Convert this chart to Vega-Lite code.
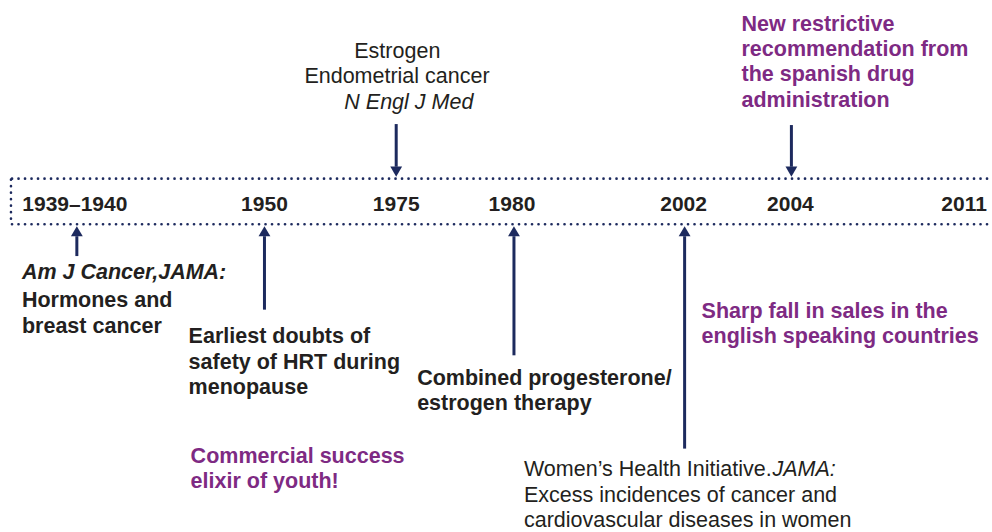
{
  "$schema": "https://vega.github.io/schema/vega-lite/v6.json",
  "width": 992,
  "height": 532,
  "padding": 0,
  "autosize": {"type": "fit", "contains": "padding"},
  "background": "white",
  "config": {"view": {"stroke": null}, "text": {"font": "Liberation Sans", "dy": 2}},
  "datasets": {
    "frame": [
      {"x": 12, "x2": 992, "y": 180, "y2": 180},
      {"x": 12, "x2": 992, "y": 226, "y2": 226},
      {"x": 11, "x2": 11, "y": 181, "y2": 225}
    ],
    "years": [
      {"label": "1939–1940", "x": 75},
      {"label": "1950", "x": 265},
      {"label": "1975", "x": 397},
      {"label": "1980", "x": 513},
      {"label": "2002", "x": 685},
      {"label": "2004", "x": 792},
      {"label": "2011", "x": 966}
    ],
    "arrows": [
      {"x": 77, "tail": 258, "base": 238, "tip": 233, "dir": "up"},
      {"x": 265, "tail": 312, "base": 238, "tip": 233, "dir": "up"},
      {"x": 397, "tail": 125, "base": 168, "tip": 173, "dir": "down"},
      {"x": 515, "tail": 358, "base": 238, "tip": 233, "dir": "up"},
      {"x": 686, "tail": 452, "base": 238, "tip": 233, "dir": "up"},
      {"x": 793, "tail": 126, "base": 168, "tip": 173, "dir": "down"}
    ],
    "texts": [
      {"text": "Am J Cancer,JAMA:", "x": 22, "y": 273, "role": "journal"},
      {"text": "Hormones and", "x": 22, "y": 301, "role": "event"},
      {"text": "breast cancer", "x": 22, "y": 327, "role": "event"},
      {"text": "Earliest doubts of", "x": 189, "y": 338, "role": "event"},
      {"text": "safety of HRT during", "x": 189, "y": 364, "role": "event"},
      {"text": "menopause", "x": 189, "y": 389, "role": "event"},
      {"text": "Commercial success", "x": 191, "y": 458, "role": "market"},
      {"text": "elixir of youth!", "x": 191, "y": 484, "role": "market"},
      {"text": "Estrogen", "x": 355, "y": 50, "role": "note"},
      {"text": "Endometrial cancer", "x": 305, "y": 76, "role": "note"},
      {"text": "N Engl J Med", "x": 345, "y": 102, "role": "citation"},
      {"text": "Combined progesterone/", "x": 418, "y": 380, "role": "event"},
      {"text": "estrogen therapy", "x": 418, "y": 405, "role": "event"},
      {"text": "Sharp fall in sales in the", "x": 703, "y": 312, "role": "market"},
      {"text": "english speaking countries", "x": 703, "y": 338, "role": "market"},
      {"text": "New restrictive", "x": 743, "y": 23, "role": "market"},
      {"text": "recommendation from", "x": 743, "y": 48, "role": "market"},
      {"text": "the spanish drug", "x": 743, "y": 74, "role": "market"},
      {"text": "administration", "x": 743, "y": 100, "role": "market"},
      {"text": "Women’s Health Initiative.", "x": 525, "y": 472, "role": "note"},
      {"text": "JAMA:", "x": 774, "y": 472, "role": "citation"},
      {"text": "Excess incidences of cancer and", "x": 525, "y": 498, "role": "note"},
      {"text": "cardiovascular diseases in women", "x": 525, "y": 523, "role": "note"}
    ]
  },
  "layer": [
    {
      "data": {"name": "frame"},
      "mark": {"type": "rule", "color": "#1d2a5e", "strokeWidth": 2.6, "strokeDash": [0.1, 6.4], "strokeCap": "round"},
      "encoding": {
        "x": {"field": "x", "type": "quantitative", "scale": {"domain": [0, 992], "nice": false, "zero": false}, "axis": null},
        "x2": {"field": "x2"},
        "y": {"field": "y", "type": "quantitative", "scale": {"domain": [0, 532], "nice": false, "zero": false, "reverse": true}, "axis": null},
        "y2": {"field": "y2"}
      }
    },
    {
      "data": {"name": "years"},
      "mark": {"type": "text", "fontWeight": "bold", "fontSize": 21, "align": "center", "baseline": "middle", "color": "#231f20"},
      "encoding": {
        "x": {"field": "x", "type": "quantitative"},
        "y": {"datum": 205, "type": "quantitative"},
        "text": {"field": "label"}
      }
    },
    {
      "data": {"name": "arrows"},
      "mark": {"type": "rule", "color": "#1d2a5e", "strokeWidth": 3},
      "encoding": {
        "x": {"field": "x", "type": "quantitative"},
        "y": {"field": "tail", "type": "quantitative"},
        "y2": {"field": "base"}
      }
    },
    {
      "data": {"name": "arrows"},
      "mark": {"type": "point", "filled": true, "color": "#1d2a5e", "size": 140, "opacity": 1},
      "encoding": {
        "x": {"field": "x", "type": "quantitative"},
        "y": {"field": "tip", "type": "quantitative"},
        "shape": {"field": "dir", "type": "nominal", "scale": {"domain": ["up", "down"], "range": ["triangle-up", "triangle-down"]}, "legend": null}
      }
    },
    {
      "data": {"name": "texts"},
      "transform": [{"filter": "datum.role === 'event'"}],
      "mark": {"type": "text", "fontWeight": "bold", "fontSize": 21.5, "align": "left", "baseline": "middle", "color": "#231f20"},
      "encoding": {"x": {"field": "x", "type": "quantitative"}, "y": {"field": "y", "type": "quantitative"}, "text": {"field": "text"}}
    },
    {
      "data": {"name": "texts"},
      "transform": [{"filter": "datum.role === 'market'"}],
      "mark": {"type": "text", "fontWeight": "bold", "fontSize": 21.5, "align": "left", "baseline": "middle", "color": "#7e2a83"},
      "encoding": {"x": {"field": "x", "type": "quantitative"}, "y": {"field": "y", "type": "quantitative"}, "text": {"field": "text"}}
    },
    {
      "data": {"name": "texts"},
      "transform": [{"filter": "datum.role === 'journal'"}],
      "mark": {"type": "text", "fontWeight": "bold", "fontStyle": "italic", "fontSize": 21.5, "align": "left", "baseline": "middle", "color": "#231f20"},
      "encoding": {"x": {"field": "x", "type": "quantitative"}, "y": {"field": "y", "type": "quantitative"}, "text": {"field": "text"}}
    },
    {
      "data": {"name": "texts"},
      "transform": [{"filter": "datum.role === 'note'"}],
      "mark": {"type": "text", "fontSize": 21.5, "align": "left", "baseline": "middle", "color": "#231f20"},
      "encoding": {"x": {"field": "x", "type": "quantitative"}, "y": {"field": "y", "type": "quantitative"}, "text": {"field": "text"}}
    },
    {
      "data": {"name": "texts"},
      "transform": [{"filter": "datum.role === 'citation'"}],
      "mark": {"type": "text", "fontStyle": "italic", "fontSize": 21.5, "align": "left", "baseline": "middle", "color": "#231f20"},
      "encoding": {"x": {"field": "x", "type": "quantitative"}, "y": {"field": "y", "type": "quantitative"}, "text": {"field": "text"}}
    }
  ]
}
